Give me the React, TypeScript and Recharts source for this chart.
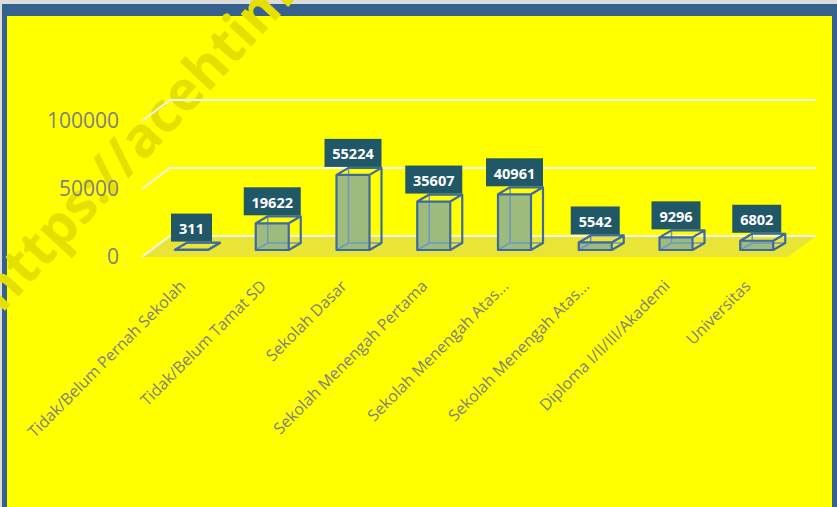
import { BarChart, Bar, XAxis, YAxis, CartesianGrid, LabelList } from "recharts"

const categories = [
    "Tidak/Belum Pernah Sekolah",
    "Tidak/Belum Tamat SD",
    "Sekolah Dasar",
    "Sekolah Menengah Pertama",
    "Sekolah Menengah Atas...",
    "Sekolah Menengah Atas...",
    "Diploma I/II/III/Akademi",
    "Universitas",
]
const values = [311, 19622, 55224, 35607, 40961, 5542, 9296, 6802]
const yTicks = [0, 50000, 100000]
const watermark = "https://acehtimurkab.bps.go.id"

const data = categories.map((name, i) => ({ name, value: values[i] }))

// fake 3d: floor depth and bar depth offsets
const FLOOR_DX = 28
const FLOOR_DY = -21
const SHIFT_X = 9
const SHIFT_Y = -7
const DEPTH_X = 12
const DEPTH_Y = -7

const EDGE = "#3f6a9e"

function Bar3D(props: any) {
    const { x, y, width: w, height: h } = props
    const sx = x + SHIFT_X
    const sy = y + SHIFT_Y
    const dx = DEPTH_X
    const dy = DEPTH_Y
    return (
        <g>
            <rect x={sx} y={sy} width={w} height={h} fill="#9dbb7d" />
            <path
                d={`M${sx + dx},${sy + dy} V${sy + h + dy} H${sx + w + dx} M${sx},${sy + h} L${sx + dx},${sy + h + dy}`}
                stroke="#6f96c8"
                strokeWidth={1.5}
                fill="none"
            />
            <path
                d={`M${sx},${sy} H${sx + w} V${sy + h} H${sx} Z M${sx},${sy} L${sx + dx},${sy + dy} H${sx + w + dx} L${sx + w},${sy} M${sx + w + dx},${sy + dy} V${sy + h + dy} L${sx + w},${sy + h}`}
                stroke={EDGE}
                strokeWidth={2.2}
                strokeLinejoin="round"
                fill="none"
            />
        </g>
    )
}

function ValueLabel(props: any) {
    const vb = props.viewBox ?? props
    const { x, y, width } = vb
    const text = String(props.value)
    const bw = text.length * 8 + 17
    const cx = x + width / 2 + SHIFT_X
    const bottom = y + SHIFT_Y + DEPTH_Y - 1
    return (
        <g>
            <rect x={cx - bw / 2} y={bottom - 28} width={bw} height={28} fill="#215868" />
            <text
                x={cx}
                y={bottom - 13}
                textAnchor="middle"
                dominantBaseline="central"
                fill="#ffffff"
                fontWeight="bold"
                fontSize={14.5}
                fontFamily="Open Sans"
            >
                {text}
            </text>
        </g>
    )
}

function GridLine(props: any) {
    const { x1, x2, y1, index } = props
    const bottom = props.y + props.height
    const isFloor = Number.isFinite(bottom) ? Math.abs(y1 - bottom) < 1 : index === 0
    return (
        <g key={`grid-${index}`}>
            {isFloor && (
                <polygon
                    points={`${x1},${y1} ${x2},${y1} ${x2 + FLOOR_DX},${y1 + FLOOR_DY} ${x1 + FLOOR_DX},${y1 + FLOOR_DY}`}
                    fill="#e9e537"
                />
            )}
            <polyline
                points={`${x1},${y1} ${x1 + FLOOR_DX},${y1 + FLOOR_DY} ${x2 + FLOOR_DX},${y1 + FLOOR_DY}`}
                stroke="#f2f2f2"
                strokeWidth={2}
                fill="none"
            />
        </g>
    )
}

function CategoryTick(props: any) {
    const { x, y, payload } = props
    const ax = x + 4
    const ay = y + 30
    return (
        <text
            x={ax}
            y={ay}
            transform={`rotate(-45 ${ax} ${ay})`}
            textAnchor="end"
            fill="#7f7f7f"
            fontSize={16}
            fontFamily="Open Sans"
        >
            {payload.value}
        </text>
    )
}

export default function App() {
    return (
        <div style={{ position: "absolute", left: 0, top: 0, width: 837, height: 507, background: "#dcdcdc", overflow: "hidden" }}>
            <div style={{ position: "absolute", left: 2, top: 4, width: 835, height: 503, background: "#36618f" }} />
            <div style={{ position: "absolute", left: 7, top: 16, width: 825, height: 491, background: "#ffff00" }} />
            <svg width={837} height={507} style={{ position: "absolute", left: 0, top: 0 }}>
                <text
                    x={2}
                    y={314}
                    transform="rotate(-47 2 314)"
                    fill="#e6e000"
                    fontSize={55}
                    fontWeight="bold"
                    fontFamily="Open Sans"
                >
                    {watermark}
                </text>
            </svg>
            <div style={{ position: "absolute", left: 0, top: 0 }}>
                <BarChart
                    width={837}
                    height={507}
                    data={data}
                    margin={{ top: 121, right: 49, bottom: 10, left: 102 }}
                    style={{ fontFamily: "Open Sans" }}
                >
                    <CartesianGrid vertical={false} horizontal={GridLine} />
                    <XAxis
                        dataKey="name"
                        axisLine={false}
                        tickLine={false}
                        tickSize={0}
                        tickMargin={0}
                        interval={0}
                        height={240}
                        tick={CategoryTick}
                    />
                    <YAxis
                        domain={[0, 100000]}
                        ticks={yTicks}
                        axisLine={false}
                        tickLine={false}
                        tickSize={0}
                        tickMargin={23}
                        width={40}
                        tick={{ fill: "#7f7f7f", fontSize: 21, fontFamily: "Open Sans" }}
                    />
                    <Bar dataKey="value" barSize={33} shape={Bar3D} isAnimationActive={false}>
                        <LabelList dataKey="value" content={ValueLabel} />
                    </Bar>
                </BarChart>
            </div>
        </div>
    )
}
